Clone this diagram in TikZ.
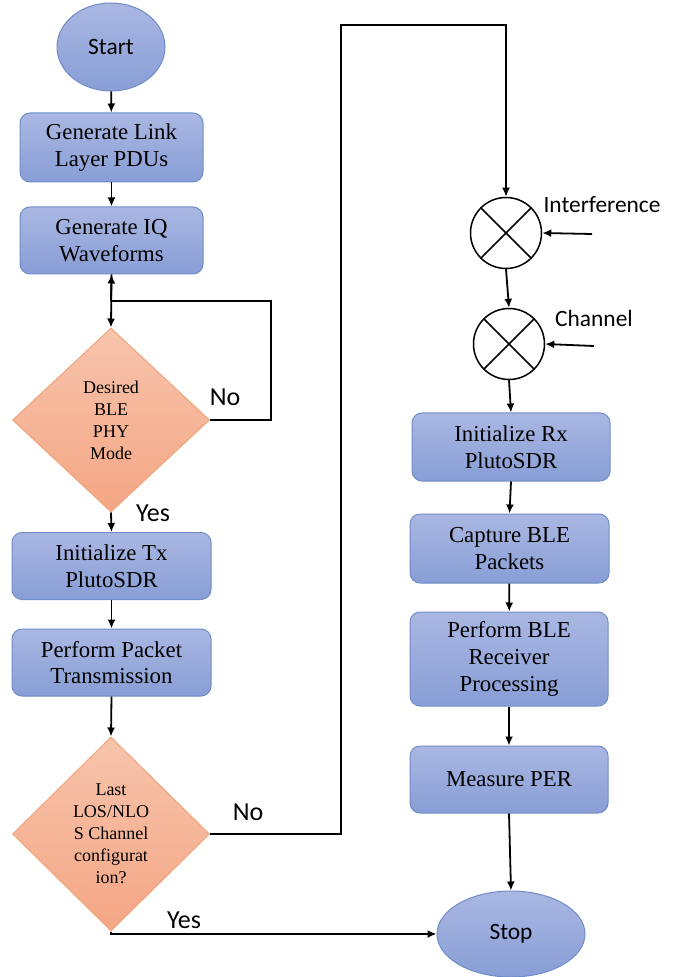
\documentclass[tikz,border=0pt]{standalone}
\usepackage{fontspec}
\setmainfont{Liberation Serif}
\newfontfamily\labelfont{Carlito}
\usetikzlibrary{shapes.geometric,arrows.meta}
\definecolor{boxtop}{RGB}{170,183,226}
\definecolor{boxbot}{RGB}{136,158,214}
\definecolor{boxline}{RGB}{112,140,200}
\definecolor{dectop}{RGB}{247,196,172}
\definecolor{decbot}{RGB}{244,166,132}
\definecolor{decline}{RGB}{240,165,125}
\tikzset{
  procbox/.style={draw=boxline, line width=0.5pt, rounded corners=5pt, top color=boxtop, bottom color=boxbot,
    align=center, inner sep=0pt, font=\fontsize{11.4}{13.3}\selectfont},
  termnode/.style={ellipse, draw=boxline, line width=0.5pt, top color=boxtop, bottom color=boxbot,
    inner sep=0pt, font=\labelfont\fontsize{11.7}{14}\selectfont},
  decnode/.style={diamond, draw=decline, line width=0.5pt, top color=dectop, bottom color=decbot,
    align=center, inner sep=-4pt, minimum width=98.5pt, font=\fontsize{9}{11}\selectfont},
  mixnode/.style={circle, draw, line width=0.75pt, minimum size=35.5pt, inner sep=0pt},
  lbl/.style={font=\labelfont\fontsize{13}{15}\selectfont, inner sep=0pt},
  arr/.style={-{Latex[length=4.5pt,width=4pt]}, line width=0.9pt}
}
\begin{document}
\begin{tikzpicture}[x=0.5pt,y=-0.5pt]
\useasboundingbox (0,0) rectangle (693,977);
 \node[termnode, minimum width=54pt, minimum height=44pt] (start) at (111,47) {Start};
 \node[procbox, minimum width=91.5pt, minimum height=34.5pt] (pdu) at (111.5,147.5) {Generate Link\\Layer PDUs};
 \node[procbox, minimum width=91.5pt, minimum height=33.5pt] (iq) at (111.5,240.5) {Generate IQ\\Waveforms};
 \node[decnode, minimum height=92pt] (mode) at (111,420) {Desired\\BLE\\PHY\\Mode};
 \node[procbox, minimum width=99.5pt, minimum height=33.5pt] (txsdr) at (111.5,566) {Initialize Tx\\PlutoSDR};
 \node[procbox, minimum width=99.5pt, minimum height=33.5pt] (txpkt) at (111.5,662.5) {Perform Packet\\Transmission};
 \node[decnode, minimum height=97pt] (last) at (111,834) {Last\\LOS/NLO\\S Channel\\configurat\\ion?};
 \node[mixnode] (intmix) at (506,233) {};
 \node[mixnode] (chmix) at (509,344) {};
 \node[procbox, minimum width=99pt, minimum height=34pt] (rxsdr) at (511,447) {Initialize Rx\\PlutoSDR};
 \node[procbox, minimum width=99.5pt, minimum height=34.5pt] (capt) at (509.5,548.5) {Capture BLE\\Packets};
 \node[procbox, minimum width=99pt, minimum height=47pt] (rxproc) at (509,659) {Perform BLE\\Receiver\\Processing};
 \node[procbox, minimum width=99pt, minimum height=33.5pt] (per) at (509,779.5) {Measure PER};
 \node[termnode, minimum width=74pt, minimum height=43pt] (stop) at (511,934) {Stop};
 \node[lbl] (nomode) at (225,397) {No};
 \node[lbl] (yesmode) at (153,513) {Yes};
 \node[lbl] (nolast) at (248,812) {No};
 \node[lbl] (yeslast) at (184,920) {Yes};
 \node[lbl, font=\labelfont\fontsize{11.7}{14}\selectfont] (intlbl) at (602,205) {Interference};
 \node[lbl, font=\labelfont\fontsize{11.7}{14}\selectfont] (chlbl) at (594,318) {Channel};
 \coordinate (loopR) at (271,301);
 \coordinate (loopJ) at (111,301);
 \coordinate (upR) at (341,25);
 \coordinate (intin) at (592,234);
 \coordinate (chin) at (594,346);
 \draw[line width=0.75pt] (intmix.45) -- (intmix.225) (intmix.135) -- (intmix.315);
 \draw[line width=0.75pt] (chmix.45) -- (chmix.225) (chmix.135) -- (chmix.315);
 \draw[arr] (start) -- (pdu);
 \draw[arr] (pdu) -- (iq);
 \draw[line width=0.9pt] (mode.east) -| (loopR) -- (loopJ);
 \draw[arr] (loopJ) -- (iq.south);
 \draw[arr] (iq.south) -- (mode.north);
 \draw[arr] (mode.south) -- (txsdr.north);
 \draw[arr] (txsdr) -- (txpkt);
 \draw[arr] (txpkt.south) -- (last.north);
 \draw[arr] (last.east) -| (upR) -| (intmix.north);
 \draw[arr] (intin) -- (intmix.east);
 \draw[arr] (intmix.south) -- (chmix.north);
 \draw[arr] (chin) -- (chmix.east);
 \draw[arr] (chmix.south) -- (rxsdr.north);
 \draw[arr] (rxsdr.south) -- (capt.north);
 \draw[arr] (capt) -- (rxproc);
 \draw[arr] (rxproc) -- (per);
 \draw[arr] (per.south) -- (stop.north);
 \draw[arr] (last.south) |- (stop.west);
\end{tikzpicture}
\end{document}
